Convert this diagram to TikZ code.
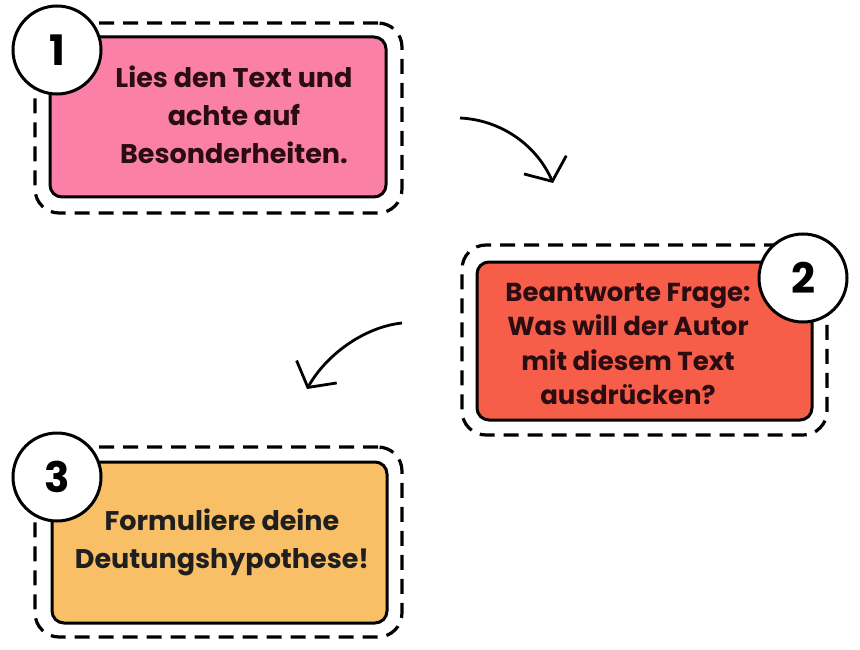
\documentclass[tikz,border=0pt]{standalone}
\usepackage{fontspec}
\setmainfont{Poppins}
\usetikzlibrary{arrows.meta}
\definecolor{pinkfill}{HTML}{FA80A8}
\definecolor{redfill}{HTML}{F65E4A}
\definecolor{orangefill}{HTML}{F8BF66}
\definecolor{txtdark}{HTML}{2B0C10}
\tikzset{
  innerbox/.style={draw=black, line width=3pt, rounded corners=12pt, minimum width=#1},
  outerbox/.style={draw=black, line width=3.2pt, dash pattern=on 15pt off 9pt, rounded corners=24pt, minimum width=#1},
  numcircle/.style={circle, draw=black, line width=3pt, fill=white, minimum size=88pt, inner sep=0pt, font=\fontsize{42}{42}\selectfont\bfseries},
  txtlabel/.style={align=center, font=\fontsize{27}{38}\selectfont\bfseries, text=txtdark, inner sep=0pt},
  curvearrow/.style={line width=2.8pt, -{Straight Barb[length=18pt,width=46pt,line width=2.8pt]}}
}
\begin{document}
\begin{tikzpicture}[x=1pt,y=-1pt]
\useasboundingbox (0,0) rectangle (860,650);
\fill[white] (0,0) rectangle (860,650);
% Box 1
\node[outerbox=367pt, minimum height=190pt] (o1) at (218.5,118) {};
\node[innerbox=336pt, minimum height=160pt, fill=pinkfill] (b1) at (218,117) {};
\node[txtlabel] (t1) at (234,115) {Lies den Text und\\achte auf\\Besonderheiten.};
\node[numcircle] (c1) at (57,50) {1};
% Box 2
\node[outerbox=365pt, minimum height=190pt] (o2) at (644.5,340) {};
\node[innerbox=335pt, minimum height=158pt, fill=redfill] (b2) at (644.5,341) {};
\node[txtlabel, font=\fontsize{26}{34.5}\selectfont\bfseries] (t2) at (628,344) {Beantworte Frage:\\Was will der Autor\\mit diesem Text\\ausdrücken?};
\node[numcircle] (c2) at (803,278) {2};
% Box 3
\node[outerbox=367pt, minimum height=190pt] (o3) at (218.5,542) {};
\node[innerbox=335pt, minimum height=161pt, fill=orangefill] (b3) at (219.5,542.5) {};
\node[txtlabel, text=black!88] (t3) at (222,542) {Formuliere deine\\Deutungshypothese!};
\node[numcircle] (c3) at (57,477) {3};
% Arrows
\coordinate (a1s) at (460,118);
\coordinate (a1e) at (553,183);
\draw[curvearrow] (a1s) .. controls (502,120) and (537,146) .. (a1e);
\coordinate (a2s) at (402,323);
\coordinate (a2e) at (307,389);
\draw[curvearrow] (a2s) .. controls (364,327) and (326,355) .. (a2e);
\end{tikzpicture}
\end{document}
